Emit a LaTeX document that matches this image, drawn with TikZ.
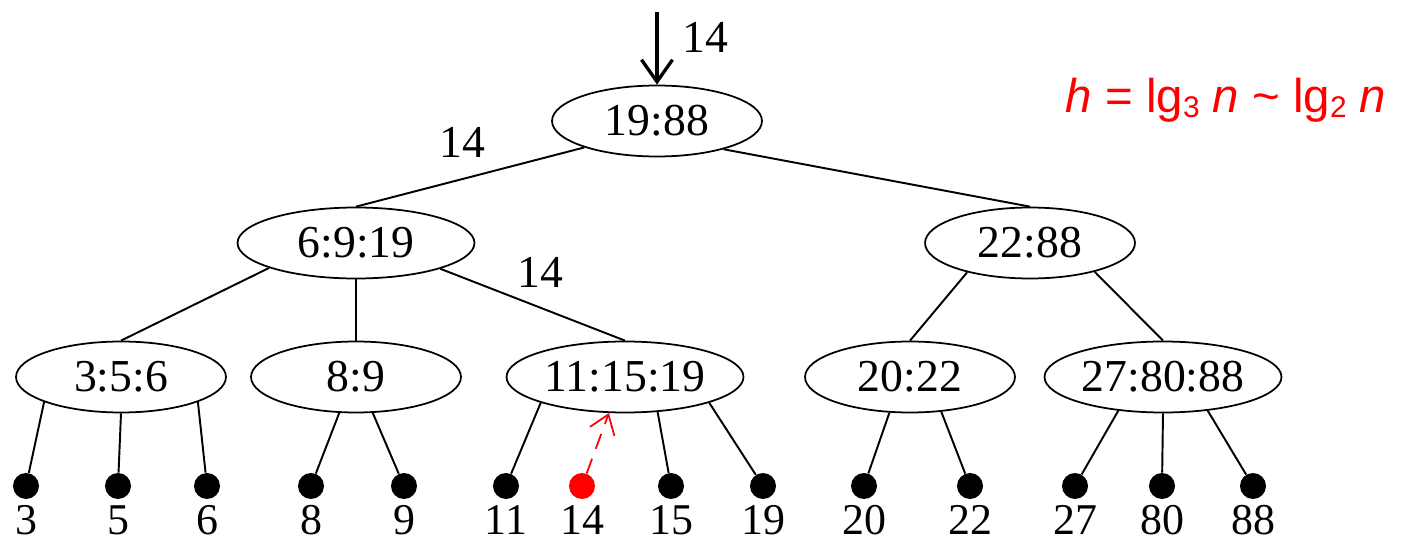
\documentclass[tikz,border=0pt]{standalone}
\usepackage{fontspec}
\setmainfont{Liberation Serif}
\newfontfamily\sansfont{Liberation Sans}
\usetikzlibrary{shapes.geometric,arrows.meta}
\definecolor{hotred}{HTML}{FF0000}
\newcommand{\lgsub}[1]{\raisebox{-3pt}{\fontsize{17}{17}\selectfont #1}}

\begin{document}
\begin{tikzpicture}[
    x=0.02cm, y=-0.02cm,
    font=\fontsize{26}{30}\selectfont,
    keys/.style={ellipse, draw, line width=1pt, inner sep=0pt, minimum width=4.2cm, minimum height=1.42cm},
    widekeys/.style={keys, minimum width=4.74cm},
    leaf/.style={circle, fill=black, inner sep=0pt, minimum size=0.52cm},
    leaflabel/.style={inner sep=0pt, label distance=0.12cm, font=\fontsize{25}{28}\selectfont},
    link/.style={line width=1.1pt}
  ]
  \useasboundingbox (0,0) rectangle (1401,544);

  % internal nodes
  \node[keys] (n19) at (657,121) {19:88};
  \node[widekeys] (n6) at (356,243) {6:9:19};
  \node[keys] (n22) at (1030,243) {22:88};
  \node[keys] (n3) at (121,377) {3:5:6};
  \node[keys] (n8) at (356,377) {8:9};
  \node[widekeys] (n11) at (625,377) {11:15:19};
  \node[keys] (n20) at (910,377) {20:22};
  \node[widekeys] (n27) at (1163,377) {27:80:88};

  % leaves
  \foreach \v/\x in {3/26,5/118,6/207,8/311,9/404,11/506,15/671,19/763,
                     20/864,22/970,27/1075,80/1162,88/1253}
    \node[leaf, label={[leaflabel]below:\v}] (l\v) at (\x,486) {};
  \node[leaf, fill=hotred, label={[leaflabel]below:14}] (l14) at (582,486) {};

  \draw[link] (n19.200) -- (n6.north);
  \draw[link] (n19.337) -- (n22.north);

  \draw[link] (n6.196) -- (n3.north);
  \draw[link] (n6.270) -- (n8.north);
  \draw[link] (n6.343) -- (n11.north);
  \draw[link] (n22.205) -- (n20.north);
  \draw[link] (n22.336) -- (n27.north);

  \draw[link] (n3.198) -- (l3);
  \draw[link] (n3.270) -- (l5);
  \draw[link] (n3.342) -- (l6);
  \draw[link] (n8.245) -- (l8);
  \draw[link] (n8.295) -- (l9);
  \draw[link] (n11.197) -- (l11);
  \draw[link] (n11.313) -- (l15);
  \draw[link] (n11.343) -- (l19);
  \draw[link] (n20.240) -- (l20);
  \draw[link] (n20.312) -- (l22);
  \draw[link] (n27.217) -- (l27);
  \draw[link] (n27.270) -- (l80);
  \draw[link] (n27.323) -- (l88);

  % search path for 14
  \coordinate (in) at (657,12);
  \draw[line width=1.9pt, -{Straight Barb[length=0.44cm, width=0.62cm, line width=1.9pt]}] (in) -- (n19.north);
  \node (t0) at (705,37) {14};
  \node (t1) at (462,142) {14};
  \node (t2) at (540,272) {14};

  % insert 14 and push up
  \draw[hotred, line width=1pt, dash pattern=on 9pt off 6pt,
        -{Straight Barb[length=0.36cm, width=0.52cm, line width=1pt]}] (l14) -- (n11.246);

  \node[text=hotred, font=\sansfont\fontsize{27}{30}\selectfont] (h) at (1226,100)
    {\textit{h} = lg\lgsub{3} \textit{n} \textasciitilde{} lg\lgsub{2} \textit{n}};
\end{tikzpicture}
\end{document}
